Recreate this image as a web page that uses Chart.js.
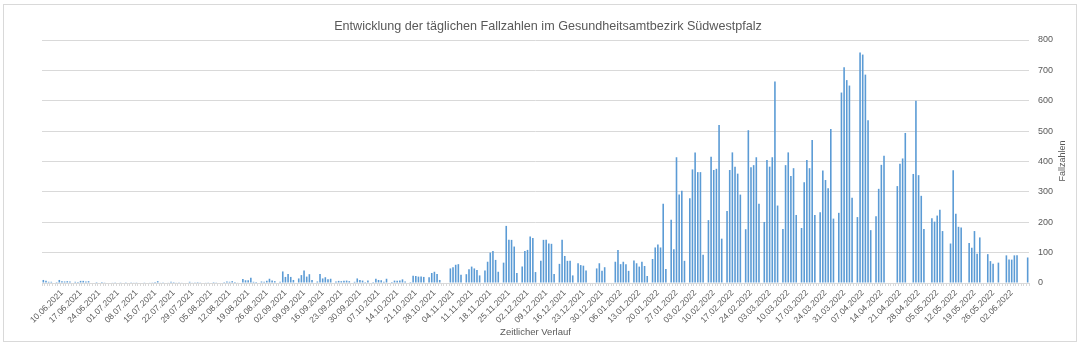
<!DOCTYPE html>
<html>
<head>
<meta charset="utf-8">
<script src="https://cdn.jsdelivr.net/npm/chart.js@4.4.0/dist/chart.umd.min.js"></script>
<style>
  html, body { margin: 0; padding: 0; background: #fff; }
  #wrap { position: relative; width: 1083px; height: 356px; }
</style>
</head>
<body>
<div id="wrap"><canvas id="chart" width="1083" height="356"></canvas></div>
<script>
// first day in the data (03.06.2021), one bar per day
const startTag = [2021, 5, 3];

// labels shown on the x axis (every 7th day)
const tickLabels = [
  '10.06.2021', '17.06.2021', '24.06.2021', '01.07.2021', '08.07.2021', '15.07.2021', '22.07.2021',
  '29.07.2021', '05.08.2021', '12.08.2021', '19.08.2021', '26.08.2021', '02.09.2021', '09.09.2021',
  '16.09.2021', '23.09.2021', '30.09.2021', '07.10.2021', '14.10.2021', '21.10.2021', '28.10.2021',
  '04.11.2021', '11.11.2021', '18.11.2021', '25.11.2021', '02.12.2021', '09.12.2021', '16.12.2021',
  '23.12.2021', '30.12.2021', '06.01.2022', '13.01.2022', '20.01.2022', '27.01.2022', '03.02.2022',
  '10.02.2022', '17.02.2022', '24.02.2022', '03.03.2022', '10.03.2022', '17.03.2022', '24.03.2022',
  '31.03.2022', '07.04.2022', '14.04.2022', '21.04.2022', '28.04.2022', '05.05.2022', '12.05.2022',
  '19.05.2022', '26.05.2022', '02.06.2022'
];

// daily case numbers, one row per week (Thu .. Wed)
const fallzahlen = [
  10, 7, 4, 4, 0, 3, 10,
  6, 5, 6, 5, 0, 4, 3,
  7, 7, 5, 6, 0, 2, 3,
  2, 3, 1, 0, 0, 2, 1,
  2, 1, 0, 1, 0, 1, 2,
  1, 2, 0, 1, 0, 2, 1,
  3, 6, 2, 1, 0, 2, 4,
  3, 2, 1, 2, 0, 2, 4,
  2, 1, 3, 1, 0, 2, 1,
  2, 3, 1, 2, 0, 3, 5,
  4, 6, 3, 2, 0, 13, 9,
  9, 17, 4, 3, 0, 5, 4,
  7, 14, 8, 6, 0, 4, 38,
  20, 30, 20, 10, 0, 15, 26,
  41, 21, 29, 10, 0, 5, 30,
  15, 19, 12, 14, 0, 5, 7,
  6, 7, 8, 6, 0, 4, 15,
  10, 8, 3, 8, 0, 3, 14,
  10, 9, 4, 14, 0, 3, 8,
  7, 8, 12, 5, 0, 3, 24,
  23, 21, 21, 20, 0, 19, 33,
  37, 30, 10, 0, 0, 0, 48,
  52, 60, 62, 27, 0, 29, 45,
  54, 48, 43, 25, 0, 41, 70,
  100, 105, 76, 37, 0, 67, 188,
  142, 142, 120, 33, 0, 54, 105,
  109, 153, 148, 36, 0, 73, 142,
  142, 130, 129, 30, 0, 63, 142,
  89, 73, 73, 25, 0, 65, 59,
  57, 41, 0, 0, 0, 48, 65,
  40, 52, 0, 0, 0, 70, 109,
  62, 70, 62, 40, 0, 74, 65,
  54, 70, 56, 23, 0, 79, 117,
  127, 117, 261, 46, 0, 208, 111,
  414, 291, 304, 73, 0, 279, 374,
  430, 365, 365, 93, 0, 207, 416,
  372, 376, 520, 146, 0, 237, 372,
  430, 383, 360, 291, 0, 177, 503,
  381, 388, 414, 261, 0, 201, 405,
  383, 414, 663, 255, 0, 178, 388,
  430, 352, 378, 224, 0, 181, 332,
  405, 378, 471, 224, 0, 233, 370,
  339, 312, 507, 212, 0, 231, 627,
  710, 668, 650, 281, 0, 217, 759,
  752, 686, 536, 174, 0, 220, 310,
  389, 419, 0, 0, 0, 0, 319,
  393, 410, 494, 0, 0, 359, 600,
  355, 287, 178, 0, 0, 213, 202,
  222, 241, 171, 0, 0, 130, 371,
  228, 185, 183, 0, 0, 132, 116,
  171, 96, 150, 0, 0, 95, 72,
  63, 0, 67, 0, 0, 91, 77,
  77, 91, 91, 0, 0, 0, 84
];

const pad = n => String(n).padStart(2, '0');
const tage = fallzahlen.map((_, i) => {
  const d = new Date(startTag[0], startTag[1], startTag[2] + i);
  return pad(d.getDate()) + '.' + pad(d.getMonth() + 1) + '.' + d.getFullYear();
});

const schrift = "'Liberation Sans', Arial, sans-serif";
const grau = '#595959';

// chart frame, title and the right-hand axis title (reads bottom to top)
const rahmen = {
  id: 'rahmen',
  beforeDraw(chart) {
    const ctx = chart.ctx;
    ctx.save();
    ctx.fillStyle = '#fff';
    ctx.fillRect(0, 0, chart.width, chart.height);
    ctx.strokeStyle = '#d9d9d9';
    ctx.lineWidth = 1;
    ctx.strokeRect(3.5, 4.5, 1073, 337);
    ctx.restore();
  },
  afterDraw(chart) {
    const ctx = chart.ctx;
    ctx.save();
    ctx.fillStyle = grau;
    ctx.textAlign = 'center';
    ctx.textBaseline = 'middle';
    ctx.font = '12.6px ' + schrift;
    ctx.fillText('Entwicklung der täglichen Fallzahlen im Gesundheitsamtbezirk Südwestpfalz', 548, 27);
    ctx.translate(1063, 161);
    ctx.rotate(-Math.PI / 2);
    ctx.font = '9px ' + schrift;
    ctx.fillText('Fallzahlen', 0, 0);
    ctx.restore();
  }
};

const ctx = document.getElementById('chart').getContext('2d');
new Chart(ctx, {
  type: 'bar',
  data: {
    labels: tage,
    datasets: [{
      label: 'Fallzahlen',
      data: fallzahlen,
      backgroundColor: '#5b9bd5',
      borderWidth: 0,
      barPercentage: 0.6,
      categoryPercentage: 1.0
    }]
  },
  options: {
    responsive: false,
    animation: false,
    layout: { padding: { left: 42, top: 40, right: 0, bottom: 0 } },
    plugins: {
      legend: { display: false },
      title: { display: false },
      tooltip: { enabled: false }
    },
    scales: {
      x: {
        offset: true,
        grid: { display: true, drawOnChartArea: false, drawTicks: true, tickLength: 3, color: '#d9d9d9', offset: true },
        border: { color: '#d9d9d9' },
        ticks: {
          autoSkip: false,
          minRotation: 45,
          maxRotation: 45,
          padding: 2,
          color: grau,
          font: { family: schrift, size: 8.5 },
          callback: function (value) {
            const l = this.getLabelForValue(value);
            return tickLabels.includes(l) ? l : '';
          }
        },
        title: {
          display: true,
          text: 'Zeitlicher Verlauf',
          color: grau,
          font: { family: schrift, size: 9.5 },
          padding: { top: 0, bottom: 18 }
        },
        afterFit: s => { s.height = 73; }
      },
      y: {
        position: 'right',
        min: 0,
        max: 800,
        ticks: { stepSize: 100, padding: 9, color: grau, font: { family: schrift, size: 9 } },
        grid: { color: '#d9d9d9', drawTicks: false },
        border: { display: false },
        afterFit: s => { s.width = 54; }
      }
    }
  },
  plugins: [rahmen]
});
</script>
</body>
</html>
